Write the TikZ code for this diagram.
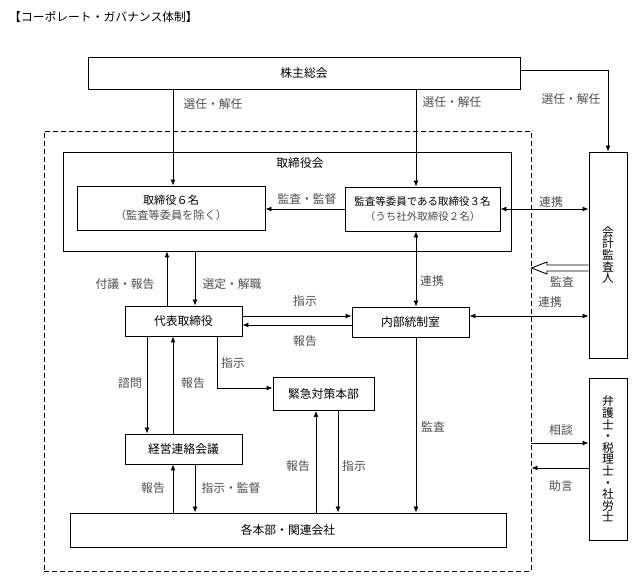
\documentclass[tikz,border=0pt]{standalone}
\usepackage{fontspec}
\setmainfont{Noto Sans CJK JP}
\usetikzlibrary{arrows.meta}

\begin{document}
\begin{tikzpicture}[x=1pt, y=-1pt,
    every node/.style={font=\fontsize{11.8}{15}\selectfont},
    box/.style={draw, line width=0.9pt, inner sep=0pt, align=center},
    vbox/.style={box, font=\fontsize{11.8}{11.6}\selectfont},
    lbl/.style={text=black!70, inner sep=0pt},
    conn/.style={line width=0.9pt},
    >={Latex[length=6pt,width=5pt]}]
    \useasboundingbox (0,0) rectangle (633,577);

    \node[anchor=west, inner sep=0pt] (title) at (9,17) {【コーポレート・ガバナンス体制】};

    % outer frame and boards
    \node[draw, line width=0.9pt, dash pattern=on 5pt off 3pt, minimum width=487, minimum height=440] (group) at (287.5,351) {};
    \node[box, minimum width=432, minimum height=32] (shareholders) at (304,73) {株主総会};
    \node[box, minimum width=448, minimum height=99] (board) at (287,201.5) {};
    \node (boardname) at (300,163) {取締役会};
    \node[box, minimum width=188, minimum height=44, font=\fontsize{11.2}{15}\selectfont] (directors) at (171,208)
        {取締役６名\\{\color{black!70}（監査等委員を除く）}};
    \node[box, minimum width=155, minimum height=44, font=\fontsize{10.5}{15}\selectfont] (auditcomm) at (422.5,209)
        {監査等委員である取締役３名\\{\color{black!70}（うち社外取締役２名）}};

    % outside parties
    \node[vbox, minimum width=38, minimum height=206] (auditor) at (608,255) {会\\計\\監\\査\\人};
    \node[vbox, minimum width=38, minimum height=162] (advisors) at (608,459)
        {弁\\護\\士\\・\\税\\理\\士\\・\\社\\労\\士};

    % executive side
    \node[box, minimum width=117, minimum height=30] (president) at (183.5,321) {代表取締役};
    \node[box, minimum width=117, minimum height=30] (internal) at (410.5,322) {内部統制室};
    \node[box, minimum width=101, minimum height=33] (emergency) at (323.5,394) {緊急対策本部};
    \node[box, minimum width=117, minimum height=30] (liaison) at (183.5,449) {経営連絡会議};
    \node[box, minimum width=436, minimum height=34] (divisions) at (288,530) {各本部・関連会社};

    % shareholders
    \draw[conn,->] (shareholders.south -| 173,0) -- (directors.north -| 173,0);
    \node[lbl] (elect1) at (213,104) {選任・解任};
    \draw[conn,->] (shareholders.south -| 416,0) -- (auditcomm.north -| 416,0);
    \node[lbl] (elect2) at (452,102) {選任・解任};
    \draw[conn,->] (shareholders.east |- 0,70) -| (auditor.north);
    \node[lbl] (elect3) at (571,99) {選任・解任};

    % board
    \draw[conn,->] (auditcomm.west) -- (auditcomm.west -| directors.east);
    \node[lbl] (supervise) at (307,199) {監査・監督};
    \draw[conn,<->] (auditcomm.east) -- (auditcomm.east -| auditor.west);
    \node[lbl] (coop1) at (551,202) {連携};
    \draw[conn,<->] (auditcomm.south -| 416,0) -- (internal.north -| 416,0);
    \node[lbl] (coop2) at (432,281) {連携};
    \draw[conn,->] (president.north -| 167,0) -- (board.south -| 167,0);
    \node[lbl] (propose) at (125,284) {付議・報告};
    \draw[conn,->] (board.south -| 195,0) -- (president.north -| 195,0);
    \node[lbl] (appoint) at (232,284) {選定・解職};

    % president
    \draw[conn,->] (president.east |- 0,316) -- (internal.west |- 0,316);
    \node[lbl] (order1) at (305,301) {指示};
    \draw[conn,->] (internal.west |- 0,325) -- (president.east |- 0,325);
    \node[lbl] (report1) at (305,341) {報告};
    \draw[conn,->] (president.south -| 217,0) |- (emergency.west |- 0,388);
    \node[lbl] (order2) at (233,363) {指示};
    \draw[conn,->] (president.south -| 147,0) -- (liaison.north -| 147,0);
    \node[lbl] (consult1) at (130,383) {諮問};
    \draw[conn,->] (liaison.north -| 173,0) -- (president.south -| 173,0);
    \node[lbl] (report2) at (193,383) {報告};

    % divisions
    \draw[conn,->] (divisions.north -| 173,0) -- (liaison.south -| 173,0);
    \node[lbl] (report3) at (153,488) {報告};
    \draw[conn,->] (liaison.south -| 195,0) -- (divisions.north -| 195,0);
    \node[lbl] (direct) at (231,488) {指示・監督};
    \draw[conn,->] (divisions.north -| 316,0) -- (emergency.south -| 316,0);
    \node[lbl] (report4) at (298,466) {報告};
    \draw[conn,->] (emergency.south -| 338,0) -- (divisions.north -| 338,0);
    \node[lbl] (order3) at (354,466) {指示};
    \draw[conn,->] (internal.south -| 416,0) -- (divisions.north -| 416,0);
    \node[lbl] (audit1) at (433,427) {監査};

    % outside links
    \draw[conn,<->] (internal.east |- 0,316) -- (auditor.west |- 0,316);
    \node[lbl] (coop3) at (550,302) {連携};
    \draw[conn, fill=white] (auditor.west |- 0,265) -- (547,265) -- (547,262) -- (group.east |- 0,268)
        -- (547,274) -- (547,271) -- (auditor.west |- 0,271);
    \node[lbl] (audit2) at (562,282) {監査};
    \draw[conn,->] (group.east |- 0,443) -- (advisors.west |- 0,443);
    \node[lbl] (consult2) at (561,430) {相談};
    \draw[conn,->] (advisors.west |- 0,468) -- (group.east |- 0,468);
    \node[lbl] (advice) at (561,486) {助言};
\end{tikzpicture}
\end{document}
